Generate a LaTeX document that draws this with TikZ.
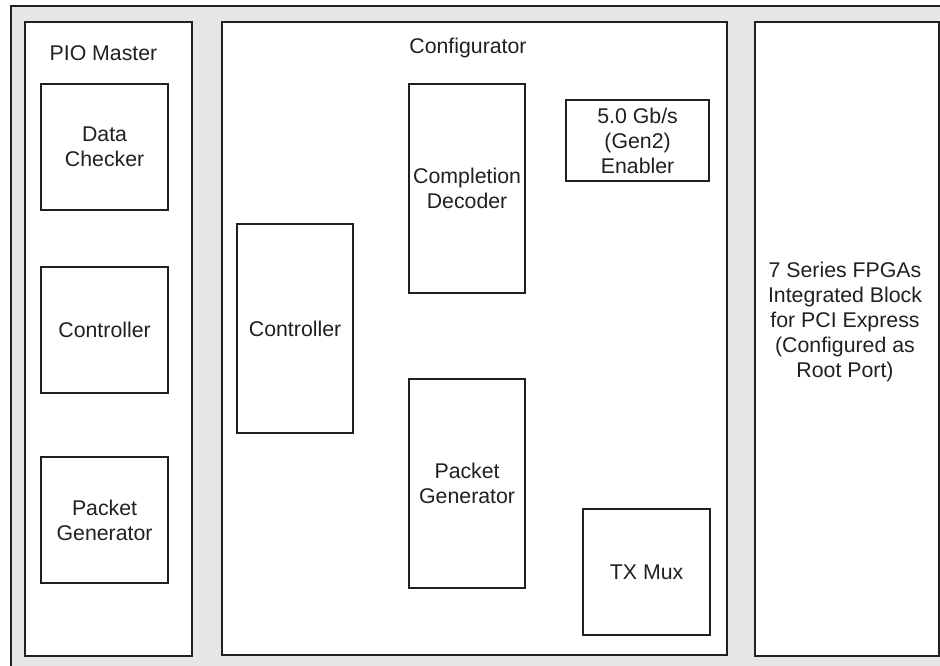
\documentclass[tikz,border=0pt]{standalone}
\usepackage{fontspec}
\setmainfont{Liberation Sans}
\definecolor{bggray}{HTML}{E5E6E8}
\definecolor{ink}{HTML}{231F20}
\begin{document}
\begin{tikzpicture}[x=1pt,y=-1pt,
  box/.style={draw=ink, line width=2.2pt, fill=white, inner sep=0pt, anchor=north west, align=center, text=ink,
     font=\fontsize{21.3pt}{25pt}\selectfont},
  frame/.style={draw=ink, line width=2pt, fill=white, inner sep=0pt, anchor=north west},
  lbl/.style={text=ink, font=\fontsize{21.3pt}{25pt}\selectfont, inner sep=0pt, align=center}]
\useasboundingbox (0,0) rectangle (940,665);
\clip (0,0) rectangle (940,665);
\fill[white] (0,0) rectangle (940,665);
\node[frame, fill=bggray, minimum width=940pt, minimum height=670pt] (outer) at (10,5) {};
% PIO Master
\node[frame, minimum width=167.5pt, minimum height=634pt] (pio) at (23.5,21) {};
\node[lbl, anchor=base] (piolbl) at (103.5,60) {PIO Master};
\node[box, minimum width=127pt, minimum height=126pt] (dc) at (40,83) {Data\\Checker};
\node[box, minimum width=127pt, minimum height=126pt] (pctl) at (40,266) {Controller};
\node[box, minimum width=127pt, minimum height=126pt] (ppg) at (40,456) {Packet\\Generator};
% Configurator
\node[frame, minimum width=505pt, minimum height=633pt] (cfg) at (221,21) {};
\node[lbl, anchor=base] (cfglbl) at (468,53) {Configurator};
\node[box, minimum width=116pt, minimum height=209pt] (cctl) at (236,223) {Controller};
\node[box, minimum width=116pt, minimum height=209pt] (cd) at (408,83) {Completion\\Decoder};
\node[box, minimum width=143pt, minimum height=81pt] (gen2) at (565,99) {5.0 Gb/s\\(Gen2)\\Enabler};
\node[box, minimum width=116pt, minimum height=209pt] (cpg) at (408,378) {Packet\\Generator};
\node[box, minimum width=127pt, minimum height=126pt] (txm) at (582,508) {TX Mux};
% Integrated block
\node[frame, minimum width=184pt, minimum height=634pt] (ib) at (754,21) {};
\node[lbl] (iblbl) at (845,322) {7 Series FPGAs\\Integrated Block\\for PCI Express\\(Configured as\\Root Port)};
\end{tikzpicture}
\end{document}
